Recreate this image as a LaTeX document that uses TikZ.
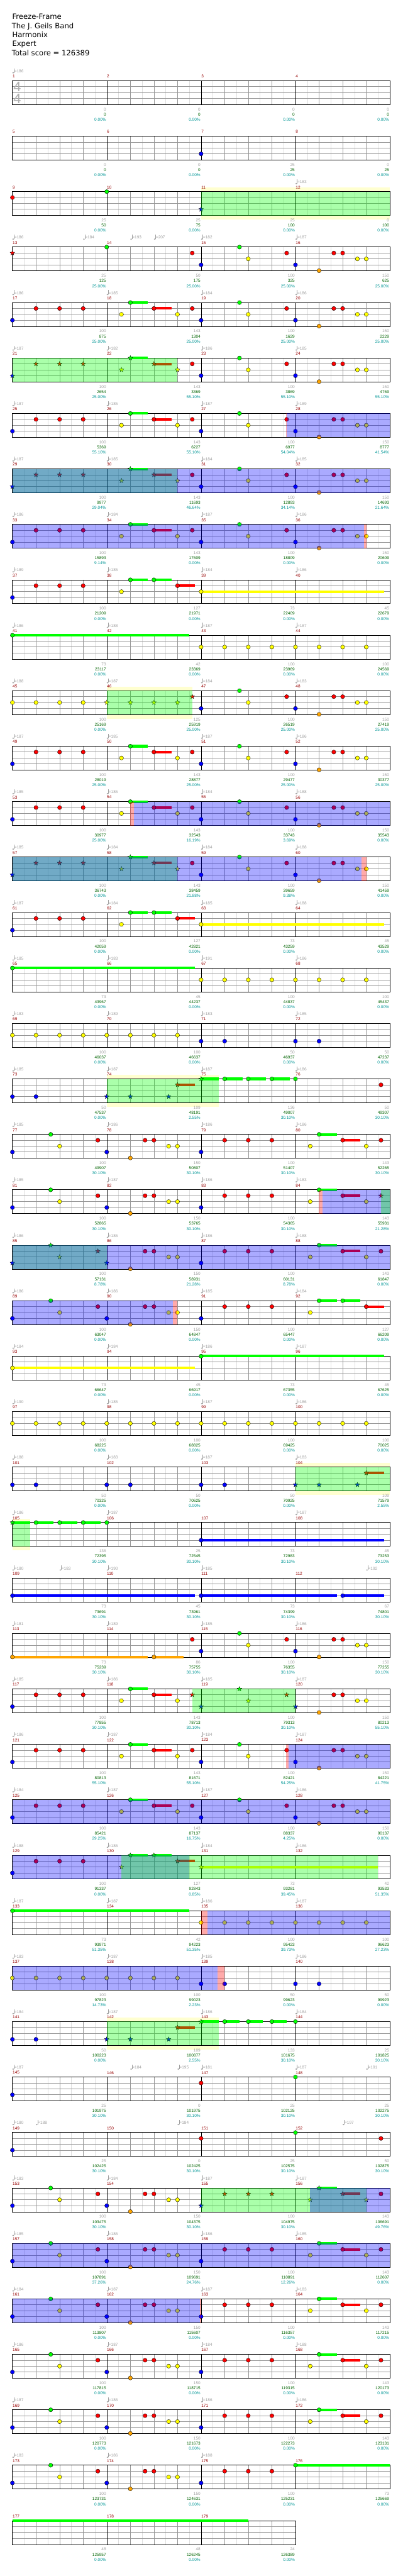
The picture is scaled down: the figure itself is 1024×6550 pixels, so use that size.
\documentclass[tikz,border=0pt]{standalone}
\usepackage{fontspec}
\setmainfont{Liberation Sans}
\newfontfamily\titlefont{DejaVu Sans}
\usetikzlibrary{shapes.geometric}
\definecolor{cG}{RGB}{0,255,0}
\definecolor{cR}{RGB}{255,0,0}
\definecolor{cY}{RGB}{255,255,0}
\definecolor{cB}{RGB}{0,0,255}
\definecolor{cO}{RGB}{255,165,0}
\definecolor{mnum}{RGB}{150,0,0}
\definecolor{tgray}{RGB}{160,160,160}
\definecolor{tsgray}{RGB}{175,175,175}
\definecolor{sgreen}{RGB}{0,100,0}
\definecolor{steal}{RGB}{0,150,150}
\definecolor{band}{RGB}{255,255,208}
\definecolor{gl1}{RGB}{150,150,150}
\definecolor{gl2}{RGB}{222,222,222}
\def\uu{7.5}
\tikzset{
  starn/.style={star, star points=5, star point ratio=2.4, minimum size=12.5pt, inner sep=0pt, draw=black, line width=0.5pt},
  notec/.style={draw=black, line width=0.6pt},
  smalltxt/.style={inner sep=0pt, font=\fontsize{10.4}{12}\selectfont},
  scnum/.style={smalltxt, anchor=east},
  mnumst/.style={smalltxt, anchor=west, text=mnum},
  tpst/.style={smalltxt, anchor=west, text=tgray},
  titlest/.style={anchor=base west, inner sep=0pt, font=\titlefont\fontsize{18.6}{23}\selectfont},
  tsst/.style={inner sep=0pt, text=tsgray, font=\fontsize{35}{40}\selectfont}
}
\newcommand\ntx[3]{\foreach \p in {#3}{\filldraw[notec, fill=#2] ({\p*\uu},{#1*15}) circle[radius=5.2pt];}}
\newcommand\stx[3]{\foreach \p in {#3}{\node[starn, fill=#2, name=st-\currow-#1-\p] at ({\p*\uu},{#1*15}) {};}}
\newcommand\susx[3]{\foreach \a/\b in {#3}{\fill[#2] ({\a*\uu},{#1*15-3.25}) rectangle ({\b*\uu},{#1*15+3.25});}}
\newcommand\nG[1]{\ntx{0}{cG}{#1}}
\newcommand\nR[1]{\ntx{1}{cR}{#1}}
\newcommand\nY[1]{\ntx{2}{cY}{#1}}
\newcommand\nB[1]{\ntx{3}{cB}{#1}}
\newcommand\nO[1]{\ntx{4}{cO}{#1}}
\newcommand\sG[1]{\stx{0}{cG}{#1}}
\newcommand\sR[1]{\stx{1}{cR}{#1}}
\newcommand\sY[1]{\stx{2}{cY}{#1}}
\newcommand\sB[1]{\stx{3}{cB}{#1}}
\newcommand\hG[1]{\susx{0}{cG}{#1}}
\newcommand\hR[1]{\susx{1}{cR}{#1}}
\newcommand\hY[1]{\susx{2}{cY}{#1}}
\newcommand\hB[1]{\susx{3}{cB}{#1}}
\newcommand\hO[1]{\susx{4}{cO}{#1}}
\newcommand\ovG[2]{\fill[cG, fill opacity=0.3333] ({#1*\uu},0) rectangle ({#2*\uu},60.7);}
\newcommand\ovB[2]{\fill[cB, fill opacity=0.3333] ({#1*\uu},0) rectangle ({#2*\uu},60.7);}
\newcommand\ovP[2]{\fill[cR, fill opacity=0.3333] ({#1*\uu},0) rectangle ({#2*\uu},60.7);}
\newcommand\yband[2]{\fill[band] ({#1*\uu},-10) rectangle ({#2*\uu},71);}
\newcommand\staffx[1]{%
  \pgfmathsetmacro\sw{240*#1}%
  \pgfmathtruncatemacro\nh{8*#1-1}%
  \pgfmathtruncatemacro\nb{4*#1-1}%
  \pgfmathtruncatemacro\nm{#1-1}%
  \fill[white] (0,0) rectangle (\sw,60.7);
  \foreach \i in {1,...,\nh}{\draw[gl2, line width=0.6pt] ({\i*30},0) -- ({\i*30},60.7);}
  \foreach \i in {1,...,\nb}{\draw[gl1, line width=0.7pt] ({\i*60},0) -- ({\i*60},60.7);}
  \foreach \l in {15,30,45}{\draw[gl1, line width=1.3pt] (0,\l) -- (\sw,\l);}
  \foreach \i in {1,...,\nm}{\draw[black, line width=0.7pt] ({\i*240},0) -- ({\i*240},60.7);}
  \draw[black, line width=1.4pt] (0,0) rectangle (\sw,60.7);
}
\newcommand\mnums[2]{\foreach \k in {1,...,#2}{\pgfmathtruncatemacro\mm{#1+\k-1}\node[mnumst, name=mn\mm] at ({(\k-1)*240+0.5},-11) {\mm};}}
\newcommand\tempo[2]{%
  \fill[tgray] ({#1*\uu+2},-20.3) ellipse [x radius=2.3pt, y radius=1.7pt];
  \draw[tgray, line width=0.6pt] ({#1*\uu+4.1},-20.6) -- ({#1*\uu+4.1},-31.5);
  \node[tpst, name=tp-\currow-#1] at ({#1*\uu+4.8},-24.3) {=#2};}
\newcommand\tq[4]{\tempo{0}{#1}\tempo{32}{#2}\tempo{64}{#3}\tempo{96}{#4}}
\newcommand\scores[3]{%
  \foreach \v [count=\k] in {#1}{\node[scnum, text=tgray, name=sa-\currow-\k] at ({\k*240-1.6},73) {\v};}
  \foreach \v [count=\k] in {#2}{\node[scnum, text=sgreen, name=sb-\currow-\k] at ({\k*240-1.6},86) {\v};}
  \foreach \v [count=\k] in {#3}{\node[scnum, text=steal, name=sc-\currow-\k] at ({\k*240-1.6},99) {\v\%};}}
\newcommand\rowat[1]{\def\currow{#1}\begin{scope}[shift={(31.5,{205.3+141*#1})}]}
\newcommand\rowend{\end{scope}}
\newcommand\PA{\hG{40/46}\hR{48/54}\nB{0}\nR{8,16,24,48,61}\nY{37,56}\nG{40}}
\newcommand\PAs{\hG{40/46}\hR{48/54}\sB{0}\sR{8,16,24,48}\sY{37,56}\sG{40}}
\newcommand\PB{\nB{64,96}\nG{77}\nY{80,117,120}\nR{93,109,112}\nO{104}}
\newcommand\PC{\nB{0,32}\nG{13}\nY{16,53,56}\nR{29,45,48}\nO{40}}
\newcommand\PD{\hG{104/110}\hR{112/118}\nB{64}\nR{72,80,88,112,125}\nY{101,120}\nG{104}}
\newcommand\PE{\hG{40/46,48/54}\hR{56/62}\hY{64/126}\nB{0}\nR{8,16,24,56}\nY{37,64}\nG{40,48}}
\begin{document}
\begin{tikzpicture}[x=1pt,y=-1pt]
\useasboundingbox (0,0) rectangle (1024,6550);
\fill[white] (0,0) rectangle (1024,6550);
\node[titlest, name=t1] at (31,49.3) {Freeze-Frame};
\node[titlest, name=t2] at (30,72.3) {The J.  Geils Band};
\node[titlest, name=t3] at (31,95.3) {Harmonix};
\node[titlest, name=t4] at (31,118.3) {Expert};
\node[titlest, name=t5] at (30,141.3) {Total score = 126389};
% row 0
\rowat{0}\staffx{4}\mnums{1}{4}\tempo{0}{186}
\node[tsst, name=ts1] at (12.5,15.2) {4};
\node[tsst, name=ts2] at (12.5,45.7) {4};
\scores{0,0,0,0}{0,0,0,0}{0.00,0.00,0.00,0.00}\rowend
% row 1
\rowat{1}\staffx{4}\mnums{5}{4}\nB{64}
\scores{0,0,25,0}{0,0,25,25}{0.00,0.00,0.00,0.00}\rowend
% row 2
\rowat{2}\yband{64}{128}\staffx{4}\mnums{9}{4}\tempo{96}{183}
\nR{0}\nG{32}\sB{64}\ovG{64}{128}
\scores{25,25,25,0}{50,75,100,100}{0.00,0.00,0.00,0.00}\rowend
% row 3
\rowat{3}\staffx{4}\mnums{13}{4}\tempo{0}{186}\tempo{24}{184}\tempo{40}{193}\tempo{48}{207}\tempo{64}{182}\tempo{96}{187}
\sR{0}\nG{32}\nR{61}\PB
\scores{25,50,100,150}{125,175,325,625}{25.00,25.00,25.00,25.00}\rowend
% row 4
\rowat{4}\staffx{4}\mnums{17}{4}\tq{186}{185}{184}{186}\PA\PB
\scores{100,143,100,150}{875,1304,1629,2229}{25.00,25.00,25.00,25.00}\rowend
% row 5
\rowat{5}\staffx{4}\mnums{21}{4}\tq{187}{182}{186}{185}\PAs\nR{61}\PB\ovG{0}{56}
\scores{100,143,100,150}{2654,3369,3869,4769}{25.00,55.10,55.10,55.10}\rowend
% row 6
\rowat{6}\staffx{4}\mnums{25}{4}\tq{187}{185}{187}{189}\PA\PB\ovP{92.8}{93.1}\ovB{93.1}{128}
\scores{100,143,100,150}{5369,6227,6977,8777}{55.10,55.10,54.04,41.54}\rowend
% row 7
\rowat{7}\staffx{4}\mnums{29}{4}\tq{187}{185}{184}{185}\PAs\nR{61}\PB\ovG{0}{56}\ovB{0}{128}
\scores{100,143,100,150}{9977,11693,12893,14693}{29.04,46.64,34.14,21.64}\rowend
% row 8
\rowat{8}\staffx{4}\mnums{33}{4}\tq{186}{184}{187}{186}\PA\PB\ovB{0}{119.3}\ovP{119.3}{120}
\scores{100,143,100,150}{15893,17609,18809,20609}{9.14,0.00,0.00,0.00}\rowend
% row 9
\rowat{9}\staffx{4}\mnums{37}{4}\tq{189}{185}{184}{186}\PE
\scores{100,127,73,45}{21209,21971,22409,22679}{0.00,0.00,0.00,0.00}\rowend
% row 10
\rowat{10}\staffx{4}\mnums{41}{4}\tq{186}{188}{187}{187}\hG{0/60}\nG{0}\nY{64,72,...,120}
\scores{73,42,100,100}{23117,23369,23969,24569}{0.00,0.00,0.00,0.00}\rowend
% row 11
\rowat{11}\yband{32}{61}\staffx{4}\mnums{45}{4}\tq{188}{187}{184}{183}\nY{0,8,16,24}\sY{32,40,48,56}\sR{61}\PB\ovG{32}{61}
\scores{100,125,100,150}{25169,25919,26519,27419}{0.00,25.00,25.00,25.00}\rowend
% row 12
\rowat{12}\staffx{4}\mnums{49}{4}\tq{187}{185}{187}{186}\PA\PB
\scores{100,143,100,150}{28019,28877,29477,30377}{25.00,25.00,25.00,25.00}\rowend
% row 13
\rowat{13}\staffx{4}\mnums{53}{4}\tq{185}{186}{184}{188}\PA\PB\ovP{40}{41.2}\ovB{41.2}{128}
\scores{100,143,100,150}{30977,32543,33743,35543}{25.00,16.19,3.69,0.00}\rowend
% row 14
\rowat{14}\staffx{4}\mnums{57}{4}\tq{185}{184}{184}{188}\PAs\nR{61}\PB\ovG{0}{56}\ovB{0}{118.4}\ovP{118.4}{120}
\scores{100,143,100,150}{36743,38459,39659,41459}{0.00,21.88,9.38,0.00}\rowend
% row 15
\rowat{15}\staffx{4}\mnums{61}{4}\tq{187}{184}{185}{188}\PE
\scores{100,127,73,45}{42059,42821,43259,43529}{0.00,0.00,0.00,0.00}\rowend
% row 16
\rowat{16}\staffx{4}\mnums{65}{4}\tq{185}{183}{191}{186}\hG{0/62}\nG{0}\nY{64,72,...,120}
\scores{73,45,100,100}{43967,44237,44837,45437}{0.00,0.00,0.00,0.00}\rowend
% row 17
\rowat{17}\staffx{4}\mnums{69}{4}\tq{183}{189}{183}{185}\nY{0,8,...,56}\nB{64,72,96,104}
\scores{100,100,50,50}{46037,46637,46937,47237}{0.00,0.00,0.00,0.00}\rowend
% row 18
\rowat{18}\yband{32}{70}\staffx{4}\mnums{73}{4}\tq{185}{187}{187}{186}
\hR{56/62}\hG{64/70,72/78,80/86,88/94}\nB{0,8}\sB{32,40,53}\sR{56}\sG{64}\nG{72,80,88,96}\nR{125}\ovG{32}{70}
\scores{50,109,136,50}{47537,48191,49007,49307}{0.00,2.55,30.10,30.10}\rowend
% row 19
\rowat{19}\staffx{4}\mnums{77}{4}\tq{185}{186}{186}{186}\PC\PD
\scores{100,150,100,143}{49907,50807,51407,52265}{30.10,30.10,30.10,30.10}\rowend
% row 20
\rowat{20}\staffx{4}\mnums{81}{4}\tq{185}{187}{186}{183}\PC
\hG{104/110}\hR{112/118}\nB{64}\nR{72,80,88,112}\nY{101,120}\nG{104}\sR{125}
\ovP{104}{105.2}\ovB{105.2}{128}\ovG{125}{128}
\scores{100,150,100,143}{52865,53765,54365,55931}{30.10,30.10,30.10,21.28}\rowend
% row 21
\rowat{21}\staffx{4}\mnums{85}{4}\tq{186}{186}{186}{188}\sB{0,32}\sG{13}\sY{16}\sR{29}\nO{40}\nR{45,48}\nY{53,56}\PD
\ovG{0}{32}\ovB{0}{128}
\scores{100,150,100,143}{57131,58931,60131,61847}{8.78,21.28,8.78,0.00}\rowend
% row 22
\rowat{22}\staffx{4}\mnums{89}{4}\tq{186}{186}{185}{184}\PC\hG{104/110,112/118}\hR{120/126}\nB{64}\nR{72,80,88,120}\nY{101}\nG{104,112}
\ovB{0}{54.4}\ovP{54.4}{56}
\scores{100,150,100,127}{63047,64847,65447,66209}{0.00,0.00,0.00,0.00}\rowend
% row 23
\rowat{23}\staffx{4}\mnums{93}{4}\tq{184}{184}{186}{187}\hY{0/62}\hG{64/126}\nY{0}\nG{64}
\scores{73,45,73,45}{66647,66917,67355,67625}{0.00,0.00,0.00,0.00}\rowend
% row 24
\rowat{24}\staffx{4}\mnums{97}{4}\tq{190}{185}{187}{186}\nY{0,8,...,120}
\scores{100,100,100,100}{68225,68825,69425,70025}{0.00,0.00,0.00,0.00}\rowend
% row 25
\rowat{25}\yband{96}{128}\staffx{4}\mnums{101}{4}\tq{188}{183}{187}{183}\nB{0,8,32,40,64,72}\hR{120/126}\sB{96,104,117}\sR{120}\ovG{96}{128}
\scores{50,50,50,109}{70325,70625,70925,71579}{0.00,0.00,0.00,2.55}\rowend
% row 26
\rowat{26}\yband{0}{6}\staffx{4}\mnums{105}{4}\tempo{0}{186}\tempo{32}{187}\tempo{96}{187}
\hG{0/6,8/14,16/22,24/30}\hB{64/126}\sG{0}\nG{8,16,24,32}\nB{64}\ovG{0}{6}
\scores{136,25,73,45}{72395,72545,72983,73253}{30.10,30.10,30.10,30.10}\rowend
% row 27
\rowat{27}\staffx{4}\mnums{109}{4}\tempo{0}{180}\tempo{16}{183}\tempo{32}{190}\tempo{64}{185}\tempo{120}{192}
\hB{0/62,64/110,112/126}\nB{0,64,112}
\scores{73,45,73,67}{73691,73961,74399,74801}{30.10,30.10,30.10,30.10}\rowend
% row 28
\rowat{28}\staffx{4}\mnums{113}{4}\tq{181}{189}{185}{186}\hO{0/46,48/58}\nO{0,48}\nR{61}\PB
\scores{73,86,100,150}{75239,75755,76355,77255}{30.10,30.10,30.10,30.10}\rowend
% row 29
\rowat{29}\staffx{4}\mnums{117}{4}\tq{185}{186}{185}{187}
\hG{40/46}\hR{48/54}\nB{0}\nR{8,16,24,48}\nY{37,56}\nG{40}\sR{61,93}\sB{64,96}\sG{77}\sY{80}\nO{104}\nR{109,112}\nY{117,120}\ovG{61}{96}
\scores{100,143,100,150}{77855,78713,79313,80213}{30.10,30.10,30.10,55.10}\rowend
% row 30
\rowat{30}\staffx{4}\mnums{121}{4}\tq{186}{187}{184}{187}\PA\PB\ovP{92.9}{93.6}\ovB{93.6}{128}
\scores{100,143,100,150}{80813,81671,82421,84221}{55.10,55.10,54.25,41.75}\rowend
% row 31
\rowat{31}\staffx{4}\mnums{125}{4}\tq{184}{187}{187}{186}\PA\PB\ovB{0}{128}
\scores{100,143,100,150}{85421,87137,88337,90137}{29.25,16.75,4.25,0.00}\rowend
% row 32
\rowat{32}\staffx{4}\mnums{129}{4}\tq{188}{186}{184}{186}
\hG{40/46,48/54}\hR{56/62}\hY{64/124}\nB{0}\nR{8,16,24}\sY{37,64}\sG{40,48}\sR{56}\ovB{0}{60}\ovG{37}{124}
\scores{100,127,73,42}{91337,92843,93281,93533}{0.00,0.85,39.45,51.35}\rowend
% row 33
\rowat{33}\staffx{4}\mnums{133}{4}\tq{187}{187}{186}{187}\hG{0/60}\nG{0}\nY{64,72,...,120}\ovP{64}{66.1}\ovB{66.1}{128}
\scores{73,42,100,100}{93971,94223,95423,96623}{51.35,51.35,39.73,27.23}\rowend
% row 34
\rowat{34}\staffx{4}\mnums{137}{4}\tq{183}{187}{185}{186}\nY{0,8,...,56}\nB{64,72,96,104}\ovB{0}{69.6}\ovP{69.6}{72}
\scores{100,100,50,50}{97823,99023,99623,99923}{14.73,2.23,0.00,0.00}\rowend
% row 35
\rowat{35}\yband{32}{70}\staffx{4}\mnums{141}{4}\tq{184}{187}{186}{184}
\hR{56/62}\hG{64/70,72/77,80/85,88/93}\nB{0,8}\sB{32,40,53}\sR{56}\sG{64}\nG{72,80,88,96}\ovG{32}{70}
\scores{50,109,133,25}{100223,100877,101675,101825}{0.00,2.55,30.10,30.10}\rowend
% row 36
\rowat{36}\staffx{4}\mnums{145}{4}\tempo{0}{187}\tempo{40}{184}\tempo{56}{195}\tempo{64}{181}\tempo{96}{187}\tempo{120}{191}
\nB{0}\nR{64}\nG{96}
\scores{25,0,25,25}{101975,101975,102125,102275}{30.10,30.10,30.10,30.10}\rowend
% row 37
\rowat{37}\staffx{4}\mnums{149}{4}\tempo{0}{180}\tempo{8}{188}\tempo{56}{184}\tempo{112}{197}
\nB{0}\nR{64,125}\nG{96}
\scores{25,0,25,50}{102425,102425,102575,102875}{30.10,30.10,30.10,30.10}\rowend
% row 38
\rowat{38}\staffx{4}\mnums{153}{4}\tq{183}{184}{187}{187}\PC
\hG{104/110}\hR{112/118}\sB{64}\sR{72,80,88,112}\sY{101,120}\sG{104}\nR{125}\ovG{64}{120}\ovB{101}{128}
\scores{100,150,100,143}{103475,104375,104975,106691}{30.10,30.10,30.10,49.76}\rowend
% row 39
\rowat{39}\staffx{4}\mnums{157}{4}\tq{185}{186}{186}{185}\PC\PD\ovB{0}{128}
\scores{100,150,100,143}{107891,109691,110891,112607}{37.26,24.76,12.26,0.00}\rowend
% row 40
\rowat{40}\staffx{4}\mnums{161}{4}\tq{184}{187}{187}{183}\PC\PD\ovB{0}{63.6}\ovP{63.6}{64}
\scores{100,150,100,143}{113807,115607,116357,117215}{0.00,0.00,0.00,0.00}\rowend
% row 41
\rowat{41}\staffx{4}\mnums{165}{4}\tq{186}{187}{184}{188}\PC\PD
\scores{100,150,100,143}{117815,118715,119315,120173}{0.00,0.00,0.00,0.00}\rowend
% row 42
\rowat{42}\staffx{4}\mnums{169}{4}\tq{187}{186}{186}{186}\PC\PD
\scores{100,150,100,143}{120773,121673,122273,123131}{0.00,0.00,0.00,0.00}\rowend
% row 43
\rowat{43}\staffx{4}\mnums{173}{4}\tempo{0}{183}\tempo{32}{186}\tempo{64}{188}
\PC\hG{96/128}\nB{64}\nR{72,80,88}\nG{96}
\scores{100,150,100,73}{123731,124631,125231,125669}{0.00,0.00,0.00,0.00}\rowend
% row 44
\rowat{44}\staffx{3}\mnums{177}{3}\hG{0/80}
\scores{48,48,24}{125957,126245,126389}{0.00,0.00,0.00}\rowend
\end{tikzpicture}
\end{document}
